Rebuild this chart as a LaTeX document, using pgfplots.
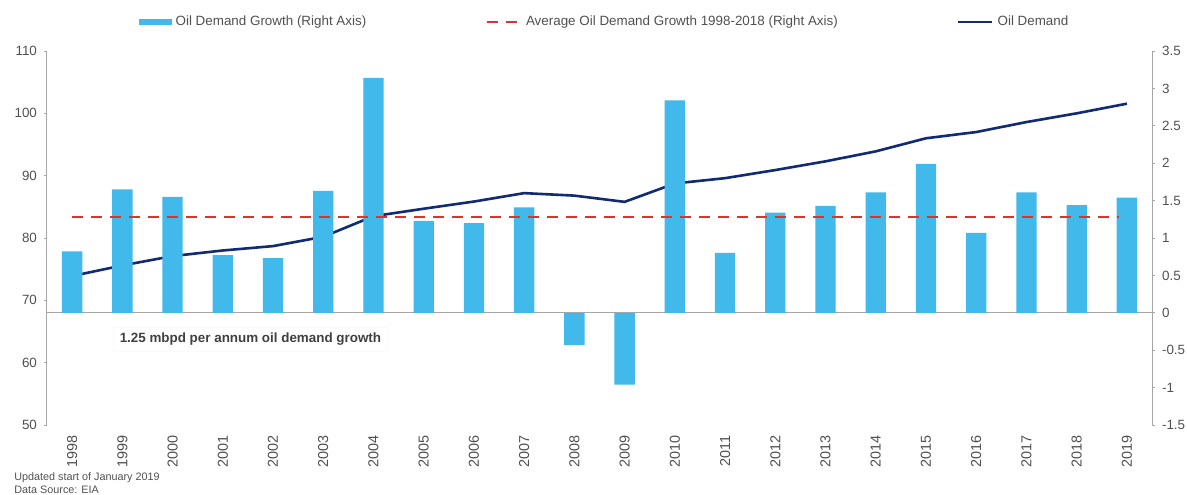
\documentclass[border=0pt]{standalone}
\usepackage{fontspec}
\setmainfont{Liberation Sans}
\usepackage{pgfplots}
\usepackage{pgfplotstable}
\pgfplotsset{compat=1.18}
\definecolor{barblue}{HTML}{41B9EB}
\definecolor{avgred}{HTML}{E0322B}
\definecolor{navy}{HTML}{112A74}
\definecolor{txt}{HTML}{505050}
\definecolor{axgray}{HTML}{A6A6A6}

\pgfplotstableread{
x year demand growth
0 1998 73.9 0.82
1 1999 75.6 1.65
2 2000 77.1 1.55
3 2001 78.0 0.77
4 2002 78.7 0.73
5 2003 80.2 1.63
6 2004 83.5 3.14
7 2005 84.7 1.23
8 2006 85.85 1.20
9 2007 87.2 1.41
10 2008 86.8 -0.43
11 2009 85.8 -0.96
12 2010 88.75 2.84
13 2011 89.6 0.80
14 2012 90.9 1.34
15 2013 92.3 1.43
16 2014 93.9 1.61
17 2015 96.0 1.99
18 2016 97.0 1.07
19 2017 98.6 1.61
20 2018 100.0 1.44
21 2019 101.55 1.54
}\data

\newcommand{\tfont}{\fontsize{6.7}{8}\selectfont}

\begin{document}
\begin{tikzpicture}
\useasboundingbox (-23.5pt,-34.75pt) rectangle (570pt,212.5pt);
\pgfplotsset{
  common/.style={
    scale only axis, width=552.5pt, height=187pt,
    xmin=-0.5, xmax=21.5,
    tick align=outside, major tick length=1.5pt,
    tick label style={font=\tfont, text=txt},
    /pgf/number format/assume math mode=true,
    y axis line style={axgray, line width=0.5pt},
    ytick style={axgray, line width=0.5pt},
  }
}
\begin{axis}[common,
  ymin=50, ymax=110,
  ytick={50,60,...,110},
  axis y line*=left,
  axis x line*=bottom,
  x axis line style={draw=none},
  xtick={0,...,21},
  xticklabels={1998,1999,2000,2001,2002,2003,2004,2005,2006,2007,2008,2009,2010,2011,2012,2013,2014,2015,2016,2017,2018,2019},
  xtick style={draw=none},
  x tick label style={rotate=90, anchor=east, font=\fontsize{7.2}{8}\selectfont},
  xticklabel shift=0.3pt,
]
\addplot[navy, line width=1.3pt] table[x=x, y=demand]{\data};
\end{axis}
\begin{axis}[common,
  ymin=-1.5, ymax=3.5,
  ytick={-1.5,-1,...,3.5},
  yticklabel style={/pgf/number format/fixed},
  axis y line*=right,
  axis x line=none,
  legend columns=3,
  legend style={at={(0.5,1)}, anchor=center, yshift=14.5pt, xshift=3pt,
    draw=none, fill=none, font=\tfont, text=txt,
    /tikz/every even column/.append style={column sep=57.5pt}},
]
\draw[axgray, line width=0.5pt] (axis cs:-0.5,0) -- (axis cs:21.5,0);
\addplot[ybar, bar width=0.405, fill=barblue, draw=none,
  legend image code/.code={\fill[barblue] (0pt,-1.7pt) rectangle (16.5pt,1.7pt);}]
  table[x=x, y=growth]{\data};
\addlegendentry{Oil Demand Growth (Right Axis)}
\addplot[avgred, line width=1.3pt, dash pattern=on 5.5pt off 4pt] coordinates {(0,1.28) (20.85,1.28)};
\addlegendentry{Average Oil Demand Growth 1998-2018 (Right Axis)}
\addlegendimage{navy, line width=1.3pt}
\addlegendentry{Oil Demand}
\node[font=\tfont\bfseries, text=txt!80!black, fill=white, draw=gray!4, inner sep=3pt] at (axis cs:3.55,-0.356) {1.25 mbpd per annum oil demand growth};
\end{axis}
\node[anchor=west, inner sep=0pt, font=\fontsize{5.4}{6.2}\selectfont, text=txt] at (-16.5pt,-26.25pt) {Updated start of January 2019};
\node[anchor=west, inner sep=0pt, font=\fontsize{5.4}{6.2}\selectfont, text=txt] at (-16.5pt,-32.25pt) {Data Source: EIA};
\end{tikzpicture}
\end{document}
